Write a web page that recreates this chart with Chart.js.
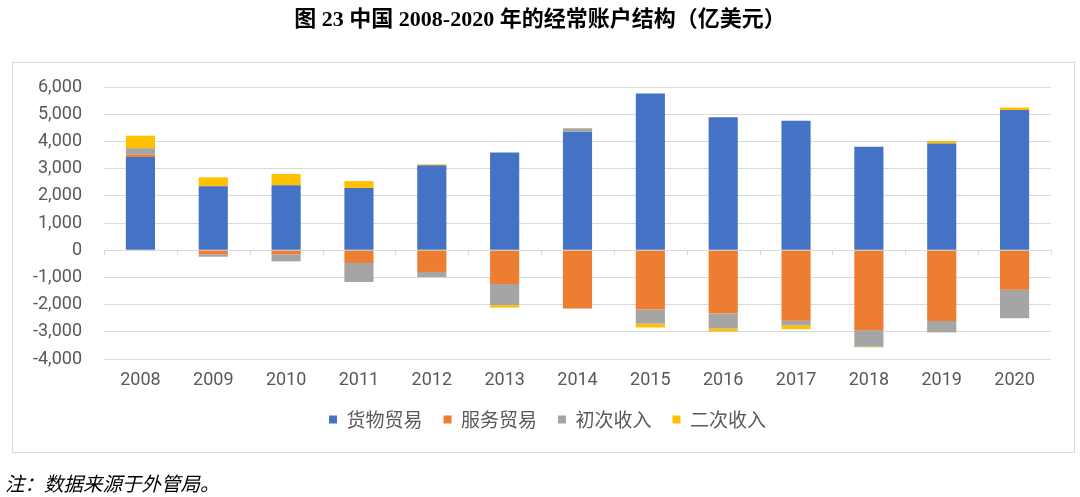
<!DOCTYPE html>
<html>
<head>
<meta charset="utf-8">
<script src="https://cdn.jsdelivr.net/npm/chart.js@4.4.1/dist/chart.umd.min.js"></script>
<style>
  html, body { margin: 0; padding: 0; background: #ffffff; }
  #wrap { position: relative; width: 1080px; height: 497px; overflow: hidden; }
  #title { position: absolute; left: 0; top: 4px; width: 1080px; text-align: center;
           font-family: "Liberation Serif", "Noto Sans CJK SC", serif; font-weight: bold;
           font-size: 22px; color: #000; line-height: 30px; }
  #box { position: absolute; left: 12px; top: 62px; width: 1061px; height: 389px;
         border: 1px solid #d9d9d9; box-sizing: content-box; }
  #note { position: absolute; left: 5px; top: 469px; font-family: "Noto Sans CJK SC", sans-serif;
          font-style: italic; font-size: 19.5px; color: #000; line-height: 28px; }
  canvas { position: absolute; left: 0; top: 0; }
</style>
</head>
<body>
<div id="wrap">
  <div id="box"></div>
  <canvas id="c" width="1080" height="497"></canvas>
  <div id="title">图 23 中国 2008-2020 年的经常账户结构（亿美元）</div>
  <div id="note">注：数据来源于外管局。</div>
</div>
<script>
const years = ["2008","2009","2010","2011","2012","2013","2014","2015","2016","2017","2018","2019","2020"];
const goodsTrade     = [3430, 2350, 2390, 2290, 3120, 3590, 4350, 5760, 4890, 4760, 3800, 3920, 5150];
const servicesTrade  = [90, -150, -150, -470, -800, -1240, -2140, -2180, -2330, -2590, -2940, -2600, -1450];
const primaryIncome  = [230, -90, -260, -700, -190, -780, 130, -520, -550, -170, -610, -420, -1050];
const secondaryIncome= [460, 330, 410, 250, 35, -90, 15, -140, -110, -140, -20, 100, 95];
const seriesNames = ["货物贸易", "服务贸易", "初次收入", "二次收入"];
const seriesColors = ["#4472C4", "#ED7D31", "#A5A5A5", "#FFC000"];
const yTicks = { min: -4000, max: 6000, step: 1000 };

const seriesData = [goodsTrade, servicesTrade, primaryIncome, secondaryIncome];

const zeroTicks = {
  id: 'zeroTicks',
  beforeDatasetsDraw(chart) {
    const x = chart.scales.x, y = chart.scales.y;
    const ctx = chart.ctx;
    const y0 = y.getPixelForValue(0);
    const n = years.length;
    const half = (x.getPixelForValue(1) - x.getPixelForValue(0)) / 2;
    ctx.save();
    ctx.strokeStyle = '#d9d9d9';
    ctx.lineWidth = 1;
    ctx.beginPath();
    for (let i = 0; i <= n; i++) {
      const px = Math.round(x.getPixelForValue(0) - half + i * half * 2) + 0.5;
      ctx.moveTo(px, y0);
      ctx.lineTo(px, y0 + 5);
    }
    ctx.stroke();
    ctx.restore();
  }
};

const legendShift = {
  id: 'legendShift',
  afterLayout(chart) {
    if (chart.legend) { chart.legend.left += 22; chart.legend.right += 22; }
  }
};

new Chart(document.getElementById('c'), {
  type: 'bar',
  data: {
    labels: years,
    datasets: seriesData.map((d, i) => ({
      label: seriesNames[i],
      data: d,
      backgroundColor: seriesColors[i],
      borderWidth: 0,
      barPercentage: 0.4,
      categoryPercentage: 1.0
    }))
  },
  options: {
    responsive: false,
    animation: false,
    devicePixelRatio: 1,
    layout: { padding: { left: 0, right: 29, top: 87, bottom: 58 } },
    plugins: {
      title: { display: false },
      tooltip: { enabled: false },
      legend: {
        position: 'bottom',
        labels: {
          boxWidth: 8, boxHeight: 8, padding: 21,
          color: '#595959',
          font: { family: '"Noto Sans CJK SC", sans-serif', size: 19 }
        }
      }
    },
    scales: {
      x: {
        stacked: true,
        grid: { display: false, drawTicks: false },
        border: { display: false },
        ticks: { color: '#595959', padding: 11, font: { family: 'Roboto, "Liberation Sans", sans-serif', size: 18 } },
        afterFit(s) { s.height = 30; }
      },
      y: {
        stacked: true,
        min: yTicks.min, max: yTicks.max,
        grid: { color: '#d9d9d9', drawTicks: false, lineWidth: 1 },
        border: { display: false },
        ticks: {
          stepSize: yTicks.step,
          color: '#595959', padding: 22,
          font: { family: 'Roboto, "Liberation Sans", sans-serif', size: 18 },
          callback: v => v.toLocaleString('en-US')
        },
        afterFit(s) { s.width = 104; }
      }
    }
  },
  plugins: [zeroTicks, legendShift]
});
</script>
</body>
</html>
